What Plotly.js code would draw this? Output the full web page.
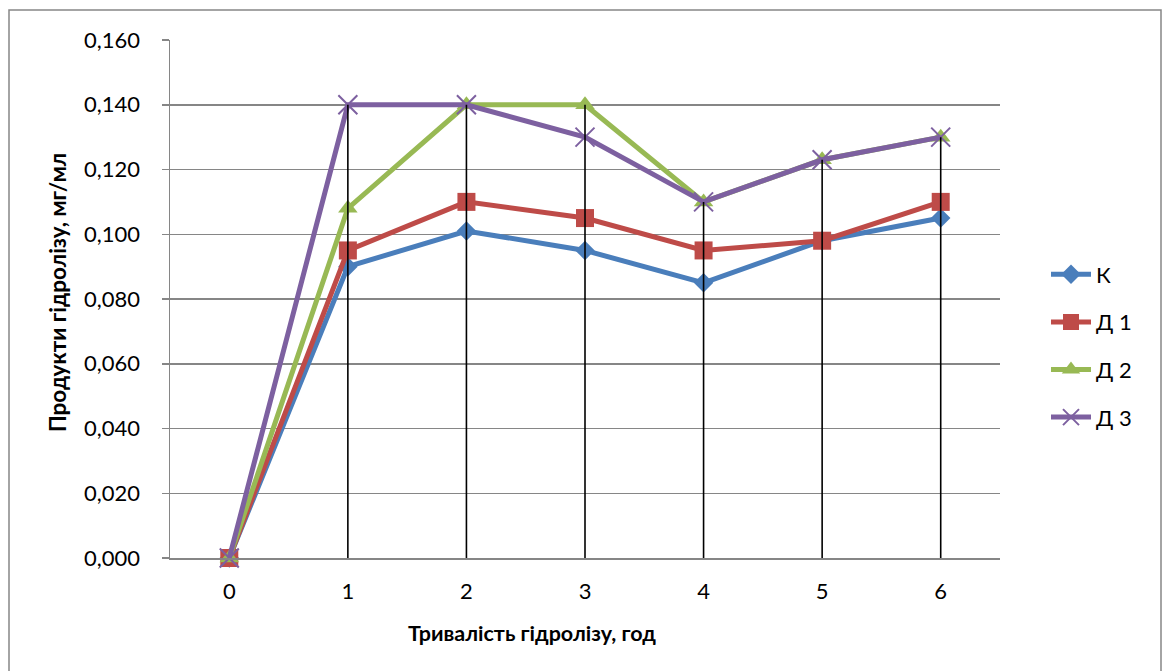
<!DOCTYPE html>
<html>
<head>
<meta charset="utf-8">
<script src="https://cdn.plot.ly/plotly-3.0.1.min.js"></script>
<style>
  html, body { margin: 0; padding: 0; background: #fff; }
  #chart { width: 1165px; height: 671px; }
</style>
</head>
<body>
<div id="chart"></div>
<script>
// ---- data ----
const hours = [0, 1, 2, 3, 4, 5, 6];
const seriesNames = ["К", "Д 1", "Д 2", "Д 3"];
const valuesK  = [0, 0.090, 0.101, 0.095, 0.085, 0.098, 0.105];
const valuesD1 = [0, 0.095, 0.110, 0.105, 0.095, 0.098, 0.110];
const valuesD2 = [0, 0.108, 0.140, 0.140, 0.110, 0.123, 0.130];
const valuesD3 = [0, 0.140, 0.140, 0.130, 0.110, 0.123, 0.130];
const yTickVals = [0, 0.02, 0.04, 0.06, 0.08, 0.1, 0.12, 0.14, 0.16];
const xTitle = "Тривалість гідролізу, год";
const yTitle = "Продукти гідролізу, мг/мл";

// ---- styles ----
const colors = ["#4A7EBB", "#BE4B48", "#98B954", "#7D60A0"];
const symbols = ["diamond", "square", "triangle-up", "x-thin"];
const sizes = [15, 18, 17, 19];
const allSeries = [valuesK, valuesD1, valuesD2, valuesD3];
const FONT = "Lato, 'Open Sans', sans-serif";

// drop lines from highest value at each category to the axis
const dropX = [], dropY = [];
hours.forEach((h, i) => {
  const m = Math.max(...allSeries.map(s => s[i]));
  if (m > 0) { dropX.push(h, h, null); dropY.push(0, m, null); }
});

const traces = allSeries.map((vals, k) => ({
  type: "scatter",
  mode: "lines+markers",
  x: hours,
  y: vals,
  name: seriesNames[k],
  legendgroup: "g" + k,
  cliponaxis: false,
  line: { color: colors[k], width: 5 },
  marker: symbols[k] === "x-thin"
    ? { symbol: "x-thin", size: sizes[k], color: colors[k], line: { color: colors[k], width: 2 } }
    : { symbol: symbols[k], size: sizes[k], color: colors[k], line: { width: 0 } }
}));

traces.push({
  type: "scatter",
  mode: "lines",
  x: dropX,
  y: dropY,
  showlegend: false,
  hoverinfo: "skip",
  cliponaxis: false,
  line: { color: "#000000", width: 1.6 }
});

// plot area in pixels: x 170..1000, y 40..558
const L = 170, R = 1000, T = 40, B = 558;
const W = R - L, H = B - T;
const px = v => (v - L) / W;
const py = v => (B - v) / H;

const layout = {
  width: 1165,
  height: 671,
  margin: { l: L, r: 1165 - R, t: T, b: 671 - B },
  paper_bgcolor: "#ffffff",
  plot_bgcolor: "#ffffff",
  separators: ", ",
  font: { family: FONT, size: 22, color: "#000000" },
  showlegend: true,
  legend: {
    x: px(1046), xanchor: "left",
    y: py(346), yanchor: "middle",
    font: { family: FONT, size: 22, color: "#000000" },
    tracegroupgap: 16,
    itemwidth: 40,
    bgcolor: "rgba(0,0,0,0)"
  },
  xaxis: {
    range: [-0.5, 6.5],
    tickvals: hours,
    ticktext: hours.map(String),
    showgrid: false,
    zeroline: false,
    showline: true,
    linecolor: "#868686",
    linewidth: 1.5,
    ticks: "",
    ticklabelstandoff: 13,
    tickfont: { family: FONT, size: 22, color: "#000000" },
    fixedrange: true
  },
  yaxis: {
    range: [0, 0.16],
    tickvals: yTickVals,
    tickformat: ".3f",
    showgrid: true,
    gridcolor: "#868686",
    gridwidth: 1.5,
    zeroline: false,
    showline: true,
    linecolor: "#868686",
    linewidth: 1.5,
    ticks: "outside",
    ticklen: 7,
    tickwidth: 1.5,
    tickcolor: "#868686",
    ticklabelstandoff: 17,
    tickfont: { family: FONT, size: 22, color: "#000000" },
    fixedrange: true
  },
  annotations: [
    {
      text: "<b>" + xTitle + "</b>",
      xref: "paper", yref: "paper",
      x: px(532), y: py(633),
      xanchor: "center", yanchor: "middle",
      showarrow: false,
      font: { family: FONT, size: 21.5, color: "#000000" }
    },
    {
      text: "<b>" + yTitle + "</b>",
      xref: "paper", yref: "paper",
      x: px(57), y: py(292),
      xanchor: "center", yanchor: "middle",
      textangle: -90,
      showarrow: false,
      font: { family: FONT, size: 22.5, color: "#000000" }
    }
  ],
  shapes: [
    {
      type: "rect",
      xref: "paper", yref: "paper",
      x0: px(9), x1: px(1161),
      y0: py(690), y1: py(10),
      line: { color: "#868686", width: 1.5 },
      fillcolor: "rgba(0,0,0,0)",
      layer: "below"
    }
  ]
};

Plotly.newPlot("chart", traces, layout, { displayModeBar: false, staticPlot: true });
</script>
</body>
</html>
